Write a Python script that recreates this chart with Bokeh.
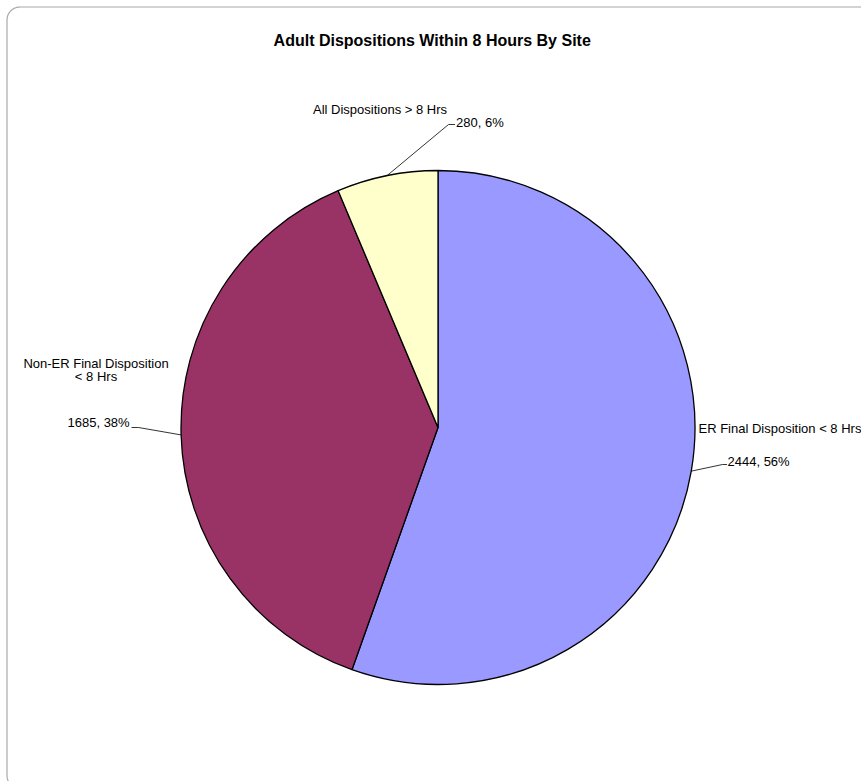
import numpy as np
from bokeh.plotting import figure
from bokeh.models import Range1d
from bokeh.core.properties import value
from bokeh.embed import file_html
from bokeh.resources import INLINE

# ---- data ----
title = "Adult Dispositions Within 8 Hours By Site"
categories = ["ER Final Disposition < 8 Hrs", "Non-ER Final Disposition\n< 8 Hrs", "All Dispositions > 8 Hrs"]
counts = [2444, 1685, 280]
percents = [56, 38, 6]
colors = ["#9999FF", "#993366", "#FFFFCC"]

W, H = 861, 781
FONT = "Liberation Sans"

def Y(ypix):
    return H - ypix

p = figure(width=W, height=H, output_backend="svg", toolbar_location=None,
           x_range=Range1d(0, W), y_range=Range1d(0, H), min_border=0)
p.axis.visible = False
p.grid.visible = False
p.outline_line_color = None
p.background_fill_color = "white"
p.border_fill_color = "white"

# ---- rounded frame (decoration) ----
r = 13
x0, y0, x1, y1 = 6.5, 6.5, 880, 788
t = np.linspace(0, np.pi / 2, 20)
# bottom-left corner (from bottom edge up to left edge)
bx = (x0 + r - r * np.cos(t))[::-1]
by = (y1 - r + r * np.sin(t))[::-1]
# top-left corner (from left edge to top edge)
tx = x0 + r - r * np.cos(t)
ty = y0 + r - r * np.sin(t)
fx = np.concatenate([bx, tx, [x1]])
fy = np.concatenate([by, ty, [y0]])
p.line(fx, [Y(v) for v in fy], line_color="#a8a8a8", line_width=1.2)

# ---- pie ----
cx, cy, R = 437.5, 427, 257
vals = np.array(counts, dtype=float)
frac = vals / vals.sum()
ends = np.pi / 2 - np.cumsum(frac) * 2 * np.pi
starts = np.concatenate([[np.pi / 2], ends[:-1]])
p.wedge(x=[cx] * 3, y=[Y(cy)] * 3, radius=R, start_angle=list(starts), end_angle=list(ends),
        direction="clock", fill_color=colors, line_color="black", line_width=1.3)

mids = (starts + ends) / 2
ex = cx + R * np.cos(mids)
ey = cy - R * np.sin(mids)

# ---- leader lines ----
p.line([ex[0], 722, 726.5], [Y(ey[0]), Y(464), Y(464)], line_color="black", line_width=0.8)
p.line([ex[1], 138, 131], [Y(ey[1]), Y(427), Y(427)], line_color="black", line_width=0.8)
p.line([ex[2], 448, 454.5], [Y(ey[2]), Y(124), Y(124)], line_color="black", line_width=0.8)

def txt(x, y, s, align="left", size="13px", style="normal"):
    p.text(x=[x], y=[Y(y)], text=[s], text_font=value(FONT), text_font_size=size,
           text_font_style=style, text_align=align, text_baseline="middle", text_color="black")

txt(431.7, 40, title, align="center", size="16px", style="bold")

txt(698, 428, categories[0])
txt(727, 461, f"{counts[0]}, {percents[0]}%")

lines = categories[1].split("\n")
txt(95.5, 363, lines[0], align="center")
txt(95.5, 376, lines[1], align="center")
txt(67, 422, f"{counts[1]}, {percents[1]}%")

txt(379.5, 109, categories[2], align="center")
txt(455.5, 122, f"{counts[2]}, {percents[2]}%")

open("out.html", "w").write(file_html(p, INLINE))
